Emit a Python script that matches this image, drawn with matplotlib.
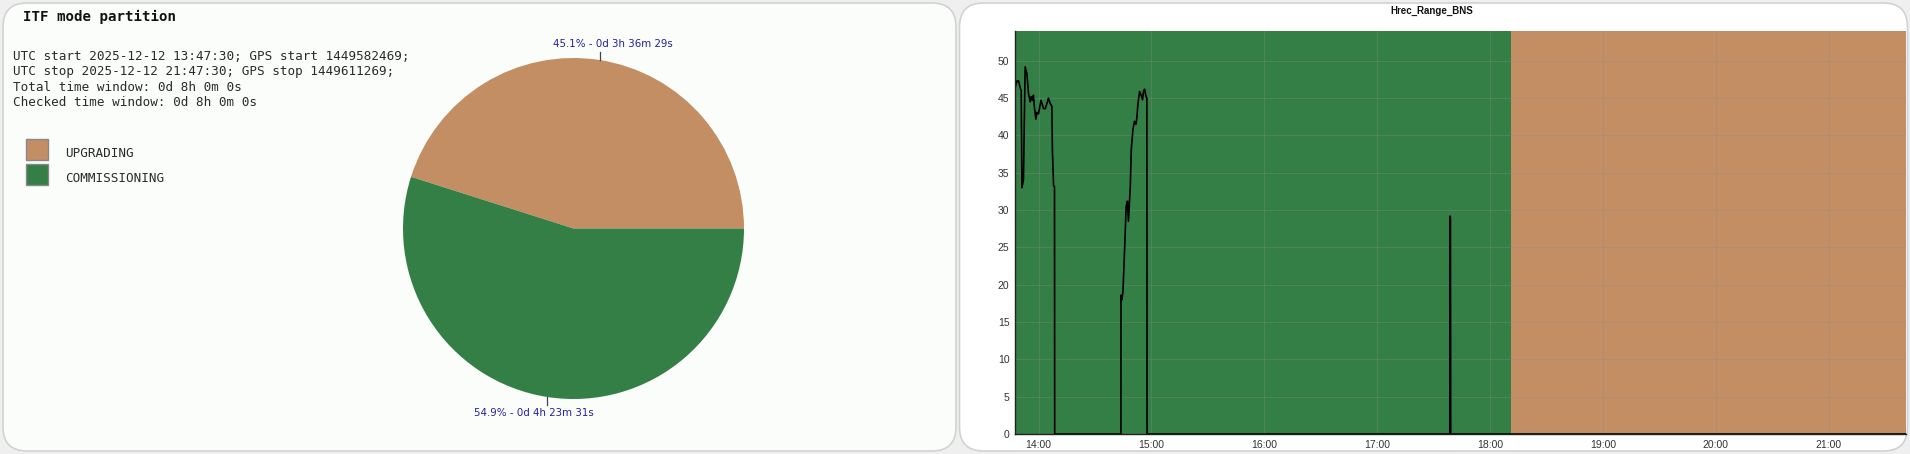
import numpy as np
import pandas as pd
import matplotlib
matplotlib.use('Agg')
import matplotlib.pyplot as plt
import matplotlib.dates as mdates
from matplotlib.patches import FancyBboxPatch, Rectangle

#### data ####
modes = ['UPGRADING', 'COMMISSIONING']
mode_seconds = [12989, 15811]
mode_colors = ['#c48e64', '#347f46']
info_lines = ['UTC start 2025-12-12 13:47:30; GPS start 1449582469;',
              'UTC stop 2025-12-12 21:47:30; GPS stop 1449611269;',
              'Total time window: 0d 8h 0m 0s',
              'Checked time window: 0d 8h 0m 0s']

day = '2025-12-12 '
span_start = ['13:47:30', '18:11:01']
span_stop = ['18:11:01', '21:47:30']
span_mode = ['COMMISSIONING', 'UPGRADING']

bns_time = ['13:47:30', '13:48:30', '13:49:24', '13:50:18', '13:50:48', '13:51:12', '13:52:00',
            '13:52:54', '13:53:48', '13:54:42', '13:55:36', '13:56:06', '13:56:48', '13:57:18',
            '13:57:54', '13:58:36', '13:59:06', '14:00:00', '14:01:18', '14:02:42', '14:03:36',
            '14:04:30', '14:05:18', '14:06:12', '14:07:06', '14:07:24', '14:08:00', '14:08:30',
            '14:08:36', '14:43:48', '14:43:50', '14:44:18', '14:44:54', '14:45:42', '14:46:36',
            '14:47:18', '14:47:48', '14:48:48', '14:49:18', '14:50:12', '14:51:00', '14:51:48',
            '14:52:18', '14:52:48', '14:53:42', '14:54:24', '14:55:18', '14:55:48', '14:56:24',
            '14:57:06', '14:57:36', '14:57:42', '17:38:40', '17:38:50', '17:38:58', '17:39:08',
            '21:41:00']
bns_range = [46.4, 47.3, 47.3, 46.4, 46.0, 33.0, 34.1,
             49.2, 48.3, 45.6, 44.5, 45.2, 44.7, 45.4,
             43.6, 42.2, 43.1, 42.9, 44.7, 43.6, 43.6,
             44.3, 45.0, 44.3, 43.9, 37.8, 33.3, 33.1,
             0.0, 0.0, 18.6, 18.0, 19.1, 24.3, 30.5,
             31.2, 28.5, 33.2, 38.1, 40.8, 41.9, 41.5,
             42.4, 44.1, 45.9, 45.5, 44.8, 45.9, 46.2,
             45.3, 45.0, 0.0, 0.0, 29.2, 28.9, 0.0,
             0.0]

W, H = 1910, 454
fig = plt.figure(figsize=(W / 100, H / 100), dpi=100)
fig.patch.set_facecolor('#efefef')

def fx(x):
    return x / W

def fy(y):
    return 1 - y / H

# panels (behind everything)
for x0, x1, fc in [(3, 956, '#fbfdfb'), (959.5, 1907.5, '#ffffff')]:
    panel = FancyBboxPatch((x0 / 100, 0.03), (x1 - x0) / 100, 4.48,
                           boxstyle='round,pad=0,rounding_size=0.24',
                           transform=fig.dpi_scale_trans, fc=fc, ec='#d2d2d2', lw=1.2, zorder=-10)
    fig.add_artist(panel)

################################################################################################
'Pie'
################################################################################################
fig.text(fx(23), fy(16.5), 'ITF mode partition', family='DejaVu Sans Mono', weight='bold',
         fontsize=10.2, va='center', ha='left', color='#111111')
for i, line in enumerate(info_lines):
    fig.text(fx(12.5), fy(56.5 + 15.5 * i), line, family='DejaVu Sans Mono', fontsize=9.1,
             va='center', ha='left', color='#2a2a2a')
for i, (m, c) in enumerate(zip(modes, mode_colors)):
    fig.add_artist(Rectangle((fx(26), fy(160 + 25 * i)), 21.5 / W, 21.5 / H,
                             transform=fig.transFigure, fc=c, ec='#888888', lw=1))
    fig.text(fx(65), fy(153 + 25 * i), m, family='DejaVu Sans Mono', fontsize=9.1,
             va='center', ha='left', color='#2a2a2a')

cx, cy, r = 573.5, 228.5, 170.5
half = 1.25 * r
pax = fig.add_axes([fx(cx - half), fy(cy + half), 2 * half / W, 2 * half / H])
pax.pie(mode_seconds, colors=mode_colors, startangle=0, counterclock=True, radius=1,
        wedgeprops=dict(linewidth=0))
pax.set_xlim(-1.25, 1.25)
pax.set_ylim(-1.25, 1.25)
pax.set_aspect('equal')
pax.set_axis_off()

total = sum(mode_seconds)
start = 0
for s in mode_seconds:
    mid = np.deg2rad(start + 180 * s / total)
    start += 360 * s / total
    h, rem = divmod(s, 3600)
    mn, sec = divmod(rem, 60)
    lab = '%.1f%% - 0d %dh %dm %ds' % (100 * s / total, h, mn, sec)
    x0 = np.cos(mid)
    pax.plot([x0, x0], [np.sin(mid), 1.035 * np.sign(np.sin(mid))], color='#444444', lw=0.9)
    pax.text(1.5 * x0, 1.085 * np.sign(np.sin(mid)), lab, ha='center', va='center',
             fontsize=7.4, color='#22229a')

################################################################################################
'Hrec_Range_BNS'
################################################################################################
ax = fig.add_axes([fx(1015), fy(434), (1905.7 - 1015) / W, 403 / H])
t = pd.to_datetime([day + s for s in bns_time])
for a, b, m in zip(span_start, span_stop, span_mode):
    ax.axvspan(pd.Timestamp(day + a), pd.Timestamp(day + b), color=mode_colors[modes.index(m)],
               lw=0, zorder=0)
ax.plot(t, bns_range, color='black', lw=1.2, zorder=3)
ax.set_xlim(pd.Timestamp(day + '13:47:30'), pd.Timestamp(day + '21:41:00'))
ax.set_ylim(0, 54)
ax.set_yticks(np.arange(0, 51, 5))
ax.xaxis.set_major_locator(mdates.HourLocator())
ax.xaxis.set_major_formatter(mdates.DateFormatter('%H:%M'))
ax.grid(True, color='#8a8a8a', alpha=0.4, lw=0.6, zorder=1)
ax.set_axisbelow(False)
for sp in ['top', 'right']:
    ax.spines[sp].set_visible(False)
for sp in ['left', 'bottom']:
    ax.spines[sp].set_color('#222222')
    ax.spines[sp].set_linewidth(1.0)
    ax.spines[sp].set_zorder(4)
ax.tick_params(length=0, labelsize=7.5, labelcolor='#333333', pad=4)
for lbl in ax.get_xticklabels() + ax.get_yticklabels():
    lbl.set_family('Liberation Sans')
ax.set_facecolor('none')
fig.text(fx(1432), fy(10.5), 'Hrec_Range_BNS', family='Liberation Sans', weight='bold',
         fontsize=7, ha='center', va='center', color='#111111')

fig.savefig('out.png', dpi=100)
